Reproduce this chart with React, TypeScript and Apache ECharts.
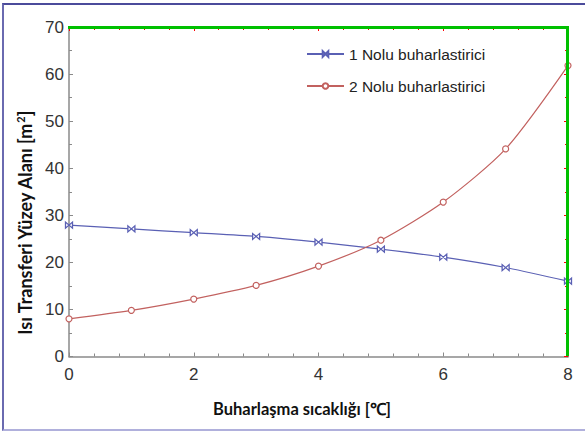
import React, { useEffect, useRef } from "react";
import * as echarts from "echarts";

const temps = [0, 1, 2, 3, 4, 5, 6, 7, 8];
const evap1 = [27.9, 27.1, 26.3, 25.5, 24.3, 22.8, 21.1, 18.9, 16.0];
const evap2 = [8.0, 9.8, 12.2, 15.1, 19.2, 24.7, 32.8, 44.1, 61.8];
const seriesNames = ["1 Nolu buharlastirici", "2 Nolu buharlastirici"];
const xTitle = "Buharlaşma sıcaklığı [℃]";
const yTitle = "Isı Transferi Yüzey Alanı [m";

const BLUE = "#5a60b4";
const RED = "#c2615f";
const AXIS = "#8a8a8a";
const BOWTIE = "path://M0,0 L0,10 L10,0 L10,10 Z";
const TITLE_FONT = "Lato, Open Sans";
const GRID = { left: 69, right: 17, top: 27, bottom: 74.5 };
const W = 585;
const H = 431;

function makeAxis(pos: string, min: number, max: number, interval: number, minorSplit: number, withLabels: boolean, color: string) {
  return {
    type: "value",
    min,
    max,
    interval,
    position: pos,
    axisLine: { show: true, onZero: false, lineStyle: { color, width: 1.5 } },
    axisTick: { show: true, inside: true, length: 4, lineStyle: { color } },
    minorTick: { show: true, splitNumber: minorSplit, length: 3, lineStyle: { color } },
    splitLine: { show: false },
    axisLabel: withLabels
      ? {
          show: true,
          fontFamily: "Liberation Sans, Arial",
          fontSize: 17,
          color: "#333",
          margin: pos === "bottom" ? 9 : 5,
        }
      : { show: false },
  };
}

export default function App() {
  const ref = useRef<HTMLDivElement>(null);
  useEffect(() => {
    document.body.style.margin = "0";
    const chart = echarts.init(ref.current!, null, { renderer: "svg" });
    const xBottom: any = makeAxis("bottom", 0, 8, 2, 5, true, AXIS);
    xBottom.name = xTitle;
    xBottom.nameLocation = "middle";
    xBottom.nameGap = 44;
    xBottom.nameTextStyle = {
      fontFamily: TITLE_FONT,
      fontWeight: "bold",
      fontSize: 16.5,
      color: "#111",
      padding: [0, 33, 0, 0],
    };
    const yLeft: any = makeAxis("left", 0, 70, 10, 2, true, AXIS);
    yLeft.name = "{a|" + yTitle + "}{s|2}{a|]}";
    yLeft.nameLocation = "middle";
    yLeft.nameGap = 32;
    yLeft.nameTextStyle = {
      padding: [0, 63, 0, 0],
      rich: {
        a: { fontFamily: TITLE_FONT, fontWeight: "bold", fontSize: 18, color: "#111" },
        s: { fontFamily: TITLE_FONT, fontWeight: "bold", fontSize: 11, color: "#111", verticalAlign: "top", padding: [0, 0, 9, 0] },
      },
    };
    chart.setOption({
      animation: false,
      grid: { ...GRID },
      legend: {
        orient: "vertical",
        left: 301,
        top: 41,
        itemWidth: 37,
        itemHeight: 7,
        itemGap: 16,
        textStyle: { fontFamily: "Liberation Sans, Arial", fontSize: 15.5, color: "#222" },
        data: seriesNames,
      },
      xAxis: [xBottom, makeAxis("top", 0, 8, 2, 5, false, "#ff0000")],
      yAxis: [yLeft, makeAxis("right", 0, 70, 10, 2, false, "#ff0000")],
      series: [
        {
          name: seriesNames[0],
          type: "line",
          data: temps.map((t, i) => [t, evap1[i]]),
          smooth: 0.25,
          symbol: BOWTIE,
          symbolSize: [7, 6],
          showAllSymbol: true,
          lineStyle: { color: BLUE, width: 1.2 },
          itemStyle: { color: "#fff", borderColor: BLUE, borderWidth: 1.2 },
        },
        {
          name: seriesNames[1],
          type: "line",
          data: temps.map((t, i) => [t, evap2[i]]),
          smooth: 0.25,
          symbol: "circle",
          symbolSize: 6,
          showAllSymbol: true,
          lineStyle: { color: RED, width: 1.2 },
          itemStyle: { color: "#fff", borderColor: RED, borderWidth: 1.2 },
        },
      ],
    });
    return () => chart.dispose();
  }, []);
  return (
    <div style={{ position: "relative", width: W, height: H, background: "#fff" }}>
      <div ref={ref} style={{ width: W, height: H }} />
      <div
        style={{
          position: "absolute",
          left: GRID.left - 1,
          top: GRID.top - 1,
          width: W - GRID.left - GRID.right + 2,
          height: H - GRID.top - GRID.bottom,
          boxSizing: "border-box",
          borderTop: "3px solid #00c000",
          borderRight: "3px solid #00c000",
          pointerEvents: "none",
        }}
      />
      <div
        style={{
          position: "absolute",
          left: 2,
          top: 3,
          width: 590,
          height: 424,
          borderTop: "2px solid #4b4b9b",
          borderLeft: "2.5px solid #6a6ab0",
          borderBottom: "2px solid #b0b0dc",
          pointerEvents: "none",
        }}
      />
    </div>
  );
}
